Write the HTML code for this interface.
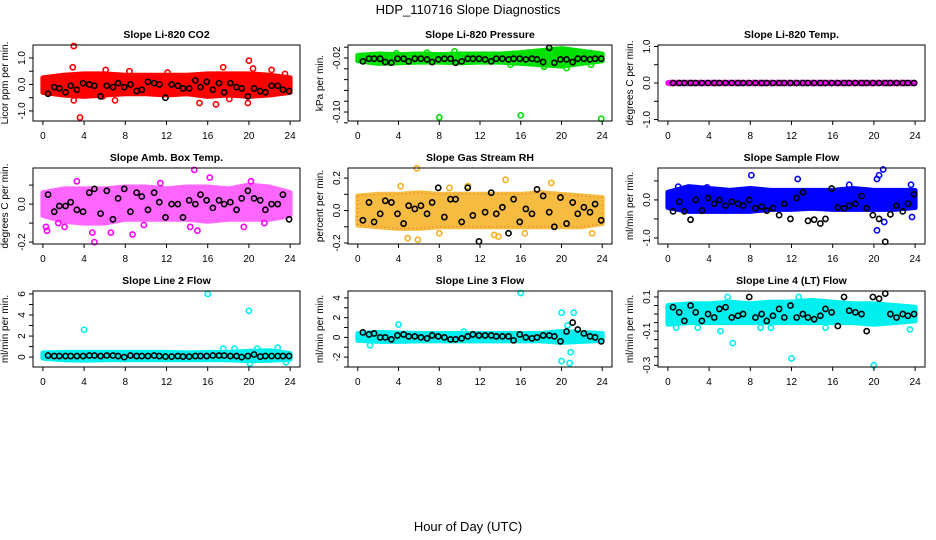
<!DOCTYPE html>
<html><head><meta charset="utf-8">
<style>
body{margin:0;background:#fff;}
svg{display:block;font-family:"Liberation Sans",sans-serif;}
</style></head>
<body>
<svg id="chart" width="936" height="540" viewBox="0 0 936 540">
<rect width="936" height="540" fill="#fff"/>
<text x="468" y="14" text-anchor="middle" font-size="13">HDP_110716  Slope Diagnostics</text>
<text x="468" y="531" text-anchor="middle" font-size="13">Hour of Day (UTC)</text>
</svg>
<script>
// shared hours
const blackHours = [0.5,1.1,1.6,2.2,2.7,3.3,3.9,4.5,5.0,5.6,6.2,6.8,7.3,7.9,8.5,9.1,9.6,10.2,10.8,11.3,11.9,12.5,13.1,13.6,14.2,14.8,15.3,15.9,16.5,17.1,17.6,18.2,18.8,19.3,19.9,20.5,21.1,21.6,22.2,22.8,23.3,23.9];
const bandHours = [0,2,4,6,8,10,12,14,16,18,20,22,24];
const xTicks = [0,4,8,12,16,20,24];

// CO2
const co2Black = [-0.35,-0.1,-0.15,-0.3,-0.05,-0.2,0.05,0.0,-0.05,-0.45,-0.05,-0.1,0.05,-0.1,0.0,-0.25,-0.2,0.1,0.05,0.0,-0.5,0.0,-0.05,-0.15,-0.15,0.15,-0.1,0.1,-0.2,0.05,-0.3,0.05,-0.1,-0.15,-0.45,-0.15,-0.25,-0.3,-0.05,-0.05,-0.2,-0.25];
const co2Lo = [-0.3,-0.4,-0.45,-0.4,-0.35,-0.35,-0.4,-0.35,-0.45,-0.4,-0.45,-0.4,-0.3];
const co2Hi = [0.25,0.35,0.4,0.4,0.35,0.35,0.35,0.35,0.4,0.4,0.4,0.35,0.25];
const co2OutX = [3.0,3.6,2.9,3.0,6.1,7.0,8.4,15.2,16.8,17.5,19.9,20.0,20.4,22.2,23.5,5.8,12.1,18.1];
const co2OutY = [1.45,-1.25,0.65,-0.6,0.55,-0.6,0.5,-0.7,-0.75,0.65,-0.7,0.9,0.6,0.55,0.4,-0.45,0.45,-0.55];
const co2YTicks = [-1.0,-0.5,0.0,0.5,1.0];
const co2YLabels = ["-1.0","","0.0","","1.0"];

// Pressure
const presBlack = [-0.025,-0.021,-0.021,-0.021,-0.026,-0.027,-0.021,-0.021,-0.025,-0.021,-0.021,-0.022,-0.026,-0.022,-0.021,-0.021,-0.027,-0.025,-0.021,-0.021,-0.021,-0.022,-0.025,-0.021,-0.021,-0.022,-0.021,-0.021,-0.022,-0.021,-0.022,-0.026,-0.005,-0.027,-0.022,-0.022,-0.026,-0.021,-0.021,-0.022,-0.021,-0.021];
const presLo = [-0.024,-0.028,-0.027,-0.026,-0.026,-0.027,-0.026,-0.026,-0.028,-0.03,-0.032,-0.028,-0.024];
const presHi = [-0.016,-0.014,-0.015,-0.014,-0.015,-0.014,-0.014,-0.014,-0.012,-0.009,-0.006,-0.01,-0.014];
const presOutX = [8.0,16.0,23.9,6.8,9.5,15.0,18.3,20.5,22.9,3.8];
const presOutY = [-0.108,-0.105,-0.11,-0.012,-0.01,-0.03,-0.033,-0.035,-0.03,-0.013];
const presYTicks = [-0.004,-0.02,-0.036,-0.052,-0.068,-0.084,-0.10,-0.116];
const presYLabels = ["","-0.02","","","","","-0.10",""];

// Li-820 Temp
const tempBlack = [0,0,0,0,0,0,0,0,0,0,0,0,0,0,0,0,0,0,0,0,0,0,0,0,0,0,0,0,0,0,0,0,0,0,0,0,0,0,0,0,0,0];
const tempLo = [-0.01,-0.01,-0.01,-0.01,-0.01,-0.01,-0.01,-0.01,-0.01,-0.01,-0.01,-0.01,-0.01];
const tempHi = [0.01,0.01,0.01,0.01,0.01,0.01,0.01,0.01,0.01,0.01,0.01,0.01,0.01];
const tempOutX = [];
const tempOutY = [];
const tempYTicks = [-1.0,-0.5,0.0,0.5,1.0];
const tempYLabels = ["-1.0","","0.0","","1.0"];

// Amb box temp
const ambBlack = [0.05,-0.04,-0.01,-0.01,0.01,-0.03,-0.04,0.06,0.08,-0.05,0.07,-0.08,0.03,0.08,-0.04,0.06,0.04,-0.03,0.06,0.01,-0.07,0.0,0.0,-0.07,0.02,0.0,0.05,0.02,-0.02,0.02,0.0,0.01,-0.03,0.03,0.07,0.03,0.02,-0.03,0.0,0.0,0.05,-0.08];
const ambLo = [-0.06,-0.09,-0.1,-0.1,-0.08,-0.08,-0.08,-0.08,-0.09,-0.08,-0.08,-0.08,-0.06];
const ambHi = [0.06,0.08,0.08,0.08,0.09,0.09,0.08,0.09,0.09,0.08,0.1,0.09,0.06];
const ambOutX = [0.3,0.4,3.3,4.8,5.0,6.6,8.7,14.7,15.0,16.2,19.5,20.2,14.3,1.5,9.8,21.5,2.1,11.4];
const ambOutY = [-0.12,-0.14,0.12,-0.15,-0.2,-0.15,-0.16,0.18,-0.14,0.14,-0.12,0.12,-0.12,-0.1,-0.11,-0.1,-0.12,0.11];
const ambYTicks = [-0.2,-0.1,0.0,0.1];
const ambYLabels = ["-0.2","","0.0",""];

// Gas stream RH
const rhBlack = [-0.06,0.05,-0.07,-0.02,0.06,0.05,-0.02,-0.08,0.03,0.01,0.03,-0.02,0.05,0.14,-0.04,0.07,0.07,-0.07,0.14,-0.03,-0.19,-0.01,0.11,-0.02,0.02,-0.14,0.07,-0.07,0.01,-0.02,0.13,0.09,-0.01,-0.1,0.08,-0.08,0.05,-0.02,0.02,-0.01,0.04,-0.06];
const rhLo = [-0.09,-0.1,-0.11,-0.11,-0.1,-0.1,-0.1,-0.1,-0.1,-0.1,-0.1,-0.1,-0.08];
const rhHi = [0.09,0.1,0.1,0.11,0.1,0.1,0.1,0.1,0.1,0.11,0.1,0.09,0.08];
const rhOutX = [5.8,5.9,4.9,13.4,13.8,9.0,14.5,19.0,23.0,4.2,8.0,10.8,16.4];
const rhOutY = [0.26,-0.18,-0.17,-0.15,-0.16,0.14,0.19,0.17,-0.14,0.15,-0.14,0.15,-0.14];
const rhYTicks = [-0.2,-0.1,0.0,0.1,0.2];
const rhYLabels = ["-0.2","","0.0","","0.2"];

// Sample flow
const sfBlack = [-0.3,-0.05,-0.3,-0.52,0.0,-0.28,0.05,-0.1,0.0,-0.15,-0.05,-0.1,-0.15,0.0,-0.22,-0.18,-0.28,-0.22,-0.4,-0.1,-0.5,0.05,0.2,-0.55,-0.52,-0.62,-0.5,0.3,-0.2,-0.22,-0.15,-0.1,0.1,-0.22,-0.4,-0.5,-1.1,-0.38,-0.15,-0.3,-0.1,0.15];
const sfLo = [-0.2,-0.3,-0.3,-0.3,-0.3,-0.25,-0.25,-0.22,-0.25,-0.25,-0.25,-0.25,-0.2];
const sfHi = [0.2,0.35,0.3,0.25,0.3,0.25,0.25,0.25,0.25,0.3,0.25,0.25,0.25];
const sfOutX = [8.1,12.6,20.3,20.5,20.9,20.3,21.0,23.7,1.0,3.8,17.6,23.6];
const sfOutY = [0.65,0.55,0.55,0.65,0.8,-0.8,-0.58,-0.45,0.35,0.33,0.4,0.4];
const sfYTicks = [-1.0,-0.5,0.0,0.5];
const sfYLabels = ["-1.0","","0.0",""];

// Line 2 flow
const l2Black = [0.15,0.1,0.1,0.1,0.1,0.1,0.1,0.15,0.15,0.1,0.15,0.15,0.1,0.0,0.15,0.1,0.1,0.1,0.15,0.1,0.05,0.05,0.1,0.05,0.05,0.1,0.1,0.1,0.15,0.15,0.15,0.1,0.1,0.0,0.1,0.25,0.05,0.1,0.1,0.1,0.1,0.1];
const l2Lo = [-0.1,-0.25,-0.3,-0.25,-0.25,-0.25,-0.25,-0.25,-0.25,-0.25,-0.35,-0.3,-0.2];
const l2Hi = [0.4,0.45,0.45,0.45,0.45,0.45,0.45,0.4,0.45,0.45,0.55,0.6,0.35];
const l2OutX = [4.0,16.0,20.0,17.5,18.6,22.8,20.1,20.8,23.6];
const l2OutY = [2.6,6.0,4.4,0.8,0.8,0.9,-0.6,0.8,-0.5];
const l2YTicks = [0,1,2,3,4,5,6];
const l2YLabels = ["0","","2","","4","","6"];

// Line 3 flow
const l3Black = [0.5,0.3,0.4,0.0,0.0,-0.2,0.2,0.3,0.1,0.1,0.0,-0.1,0.2,0.1,0.0,-0.2,-0.2,-0.1,0.1,0.3,0.2,0.2,0.2,0.1,0.1,0.1,-0.3,0.3,0.0,-0.1,0.0,0.2,0.2,0.1,-0.4,0.6,1.5,0.8,0.4,0.1,0.0,-0.4];
const l3Lo = [-0.3,-0.4,-0.4,-0.35,-0.35,-0.35,-0.35,-0.35,-0.35,-0.35,-0.5,-0.4,-0.3];
const l3Hi = [0.4,0.5,0.45,0.4,0.4,0.4,0.4,0.4,0.4,0.4,0.6,0.5,0.4];
const l3OutX = [16.0,4.0,20.0,21.2,20.0,20.8,20.9,1.2,10.4,20.6];
const l3OutY = [4.5,1.3,2.5,2.5,-2.4,-2.6,-1.5,-0.8,0.6,1.2];
const l3YTicks = [-3,-2,-1,0,1,2,3,4];
const l3YLabels = ["","-2","","0","","2","","4"];

// Line 4 flow
const l4Black = [0.04,0.01,-0.04,0.05,0.01,-0.04,0.0,-0.02,0.03,0.04,-0.02,-0.01,0.0,0.1,-0.02,0.0,-0.04,-0.01,0.03,-0.02,0.05,-0.02,0.0,-0.02,-0.03,-0.01,0.03,0.01,-0.07,0.1,0.02,0.01,0.0,-0.1,0.1,0.09,0.12,0.0,-0.02,0.0,-0.01,0.0];
const l4Lo = [-0.06,-0.05,-0.05,-0.05,-0.05,-0.05,-0.05,-0.05,-0.05,-0.05,-0.06,-0.05,-0.04];
const l4Hi = [0.05,0.06,0.06,0.07,0.06,0.07,0.07,0.08,0.07,0.06,0.06,0.05,0.04];
const l4OutX = [6.3,12.0,20.0,5.8,10.0,5.1,0.8,2.9,15.3,23.5,12.7,9.0];
const l4OutY = [-0.17,-0.26,-0.3,0.1,-0.08,-0.1,-0.08,-0.08,-0.08,-0.09,0.1,-0.08];
const l4YTicks = [-0.3,-0.25,-0.2,-0.15,-0.1,-0.05,0.0,0.05,0.1];
const l4YLabels = ["-0.3","","","","-0.1","","","","0.1"];

const NS = "http://www.w3.org/2000/svg";
const svg = document.getElementById("chart");
function mk(tag, attrs, parent){
  const e = document.createElementNS(NS, tag);
  for (const k in attrs) e.setAttribute(k, attrs[k]);
  (parent||svg).appendChild(e);
  return e;
}

const cols = [[33,300],[348,612],[658,925]];
const rows = [[45,121],[168,244],[291,367]];
const panels = [
  {key:"co2",title:"Slope Li-820 CO2",ylab:"Licor ppm per min.",color:"#ff0000",op:1,dom:[-1.38,1.49],black:co2Black,lo:co2Lo,hi:co2Hi,ox:co2OutX,oy:co2OutY,yt:co2YTicks,yl:co2YLabels},
  {key:"pressure",title:"Slope Li-820 Pressure",ylab:"kPa per min.",color:"#00e000",op:1,dom:[-0.1133,-0.0007],black:presBlack,lo:presLo,hi:presHi,ox:presOutX,oy:presOutY,yt:presYTicks,yl:presYLabels},
  {key:"li820-temp",title:"Slope Li-820 Temp.",ylab:"degrees C per min.",color:"#ff00ff",op:1,dom:[-1.04,1.04],black:tempBlack,lo:tempLo,hi:tempHi,ox:tempOutX,oy:tempOutY,yt:tempYTicks,yl:tempYLabels},
  {key:"amb-box-temp",title:"Slope Amb. Box Temp.",ylab:"degrees C per min.",color:"#ff00ff",op:0.6,dom:[-0.21,0.19],black:ambBlack,lo:ambLo,hi:ambHi,ox:ambOutX,oy:ambOutY,yt:ambYTicks,yl:ambYLabels},
  {key:"gas-stream-rh",title:"Slope Gas Stream RH",ylab:"percent per min.",color:"#f5b020",op:0.85,dom:[-0.206,0.262],black:rhBlack,lo:rhLo,hi:rhHi,ox:rhOutX,oy:rhOutY,yt:rhYTicks,yl:rhYLabels},
  {key:"sample-flow",title:"Slope Sample Flow",ylab:"ml/min per min.",color:"#0000ff",op:1,dom:[-1.16,0.84],black:sfBlack,lo:sfLo,hi:sfHi,ox:sfOutX,oy:sfOutY,yt:sfYTicks,yl:sfYLabels},
  {key:"line2-flow",title:"Slope Line 2 Flow",ylab:"ml/min per min.",color:"#00f0f0",op:1,dom:[-0.94,6.28],black:l2Black,lo:l2Lo,hi:l2Hi,ox:l2OutX,oy:l2OutY,yt:l2YTicks,yl:l2YLabels},
  {key:"line3-flow",title:"Slope Line 3 Flow",ylab:"ml/min per min.",color:"#00f0f0",op:1,dom:[-3.0,4.7],black:l3Black,lo:l3Lo,hi:l3Hi,ox:l3OutX,oy:l3OutY,yt:l3YTicks,yl:l3YLabels},
  {key:"line4-flow",title:"Slope Line 4 (LT) Flow",ylab:"ml/min per min.",color:"#00f0f0",op:1,dom:[-0.31,0.135],black:l4Black,lo:l4Lo,hi:l4Hi,ox:l4OutX,oy:l4OutY,yt:l4YTicks,yl:l4YLabels}
];

panels.forEach((p, i) => {
  const [x0,x1] = cols[i%3], [y0,y1] = rows[Math.floor(i/3)];
  const xs = v => x0 + (v + 0.96) / 25.92 * (x1 - x0);
  const ys = v => y1 - (v - p.dom[0]) / (p.dom[1] - p.dom[0]) * (y1 - y0);
  const g = mk("g", {});
  
  

  const t = mk("text", {x:(x0+x1)/2, y:y0-7, "text-anchor":"middle", "font-size":"10.5", "font-weight":"bold"}, g);
  t.textContent = p.title;
  
  

  const yl = mk("text", {transform:`translate(${x0-25},${(y0+y1)/2}) rotate(-90)`, "text-anchor":"middle", "font-size":"10"}, g);
  yl.textContent = p.ylab;
  
  

  // cloud band
  let pts = [];
  bandHours.forEach((h,k)=>pts.push(xs(h)+","+ys(p.hi[k])));
  for (let k=bandHours.length-1;k>=0;k--) pts.push(xs(bandHours[k])+","+ys(p.lo[k]));
  const band = mk("polygon", {points:pts.join(" "), fill:p.color, stroke:p.color, "stroke-width":"5", "stroke-linejoin":"round", opacity:p.op}, g);
  
  
  if (p.key === "gas-stream-rh") {
    const b2 = mk("polygon", {points:pts.join(" "), fill:"none", stroke:"#e03000", "stroke-width":"1", "stroke-dasharray":"1 3", opacity:"0.6"}, g);
    
    
  }

  // colored outliers
  p.ox.forEach((x,k)=>{
    const c = mk("circle", {cx:xs(x), cy:ys(p.oy[k]), r:2.6, fill:"none", stroke:p.color, "stroke-width":"1.6"}, g);
    
    
  });
  if (p.key === "li820-temp") {
    blackHours.forEach((h)=>{
      const c = mk("circle", {cx:xs(h-0.25), cy:ys(0), r:2.6, fill:"none", stroke:p.color, "stroke-width":"1.6"}, g);
      
      
    });
  }
  // black points
  p.black.forEach((v,k)=>{
    const c = mk("circle", {cx:xs(blackHours[k]), cy:ys(v), r:2.6, fill:"none", stroke:"#000", "stroke-width":"1.6"}, g);
    
    
  });

  const box = mk("rect", {x:x0, y:y0, width:x1-x0, height:y1-y0, fill:"none", stroke:"#000", "stroke-width":"1"}, g);
  
  

  xTicks.forEach(v=>{
    const X = xs(v);
    const tk = mk("line", {x1:X, x2:X, y1:y1, y2:y1+4, stroke:"#000"}, g);
    
    
    const tl = mk("text", {x:X, y:y1+18, "text-anchor":"middle", "font-size":"10"}, g);
    tl.textContent = v;
    
    
  });
  p.yt.forEach((v,k)=>{
    const Y = ys(v);
    const tk = mk("line", {x1:x0-4, x2:x0, y1:Y, y2:Y, stroke:"#000"}, g);
    
    
    if (p.yl[k]) {
      const tl = mk("text", {transform:`translate(${x0-8},${Y}) rotate(-90)`, "text-anchor":"middle", "font-size":"10"}, g);
      tl.textContent = p.yl[k];
      
      
    }
  });
});
</script>
</body></html>
